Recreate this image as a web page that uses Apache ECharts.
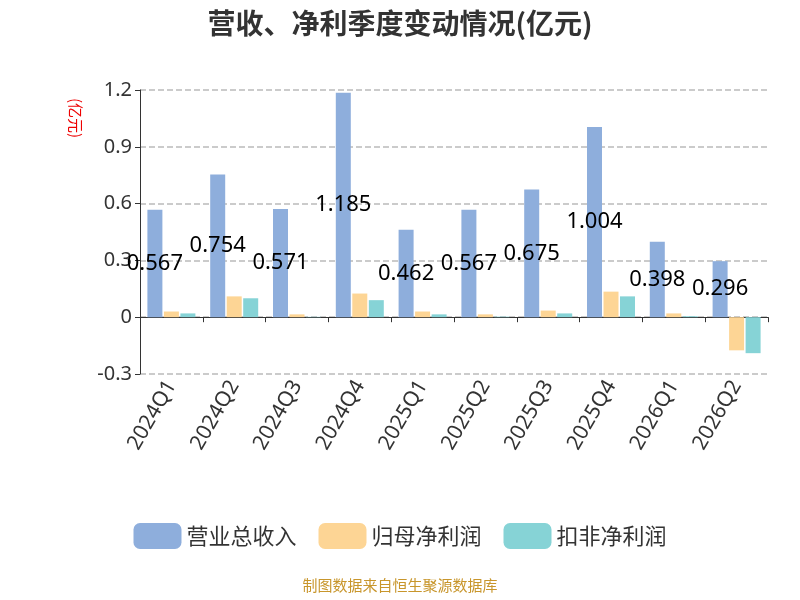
<!DOCTYPE html>
<html><head><meta charset="utf-8"><script src="https://cdn.jsdelivr.net/npm/echarts@6/dist/echarts.min.js"></script></head>
<body style="margin:0"><div id="c" style="width:800px;height:600px"></div>
<script>
const categories=['2024Q1','2024Q2','2024Q3','2024Q4','2025Q1','2025Q2','2025Q3','2025Q4','2026Q1','2026Q2'];
const revenue=[0.567,0.754,0.571,1.185,0.462,0.567,0.675,1.004,0.398,0.296];
const netProfit=[0.03,0.11,0.015,0.125,0.03,0.015,0.035,0.135,0.02,-0.175];
const deductedProfit=[0.02,0.10,0.002,0.09,0.015,0.003,0.02,0.11,0.005,-0.19];
const yTicks=[-0.3,0,0.3,0.6,0.9,1.2];
const ch=echarts.init(document.getElementById('c'));
ch.setOption({
 textStyle:{fontFamily:'Noto Sans, Noto Sans CJK SC'},
 title:{text:'营收、净利季度变动情况(亿元)',left:'center',top:4,textStyle:{fontSize:28,fontWeight:'bold',color:'#333',fontFamily:'Noto Sans CJK SC'}},
 graphic:[{type:'text',left:'center',top:578,style:{text:'制图数据来自恒生聚源数据库',fill:'#c8962c',fontSize:15,fontFamily:'Noto Sans CJK SC'}},
  {type:'text',left:68,top:98,rotation:-Math.PI/2,style:{text:'(亿元)',fill:'#e00',fontSize:15,fontFamily:'Noto Sans CJK SC'}}],
 legend:{bottom:46,itemWidth:48,itemHeight:26,itemGap:22,textStyle:{fontSize:22,color:'#333',fontFamily:'Noto Sans CJK SC'},data:['营业总收入','归母净利润','扣非净利润']},
 grid:{left:140,right:32,top:90,bottom:226},
 xAxis:{type:'category',data:categories,axisLine:{lineStyle:{color:'#333'}},axisTick:{show:true},axisLabel:{rotate:60,fontSize:21,color:'#333',interval:0}},
 yAxis:{type:'value',min:-0.3,max:1.2,interval:0.3,axisLine:{show:true,lineStyle:{color:'#333'}},axisTick:{show:true},
  axisLabel:{fontSize:20,color:'#333',formatter:v=>{const t=yTicks.find(x=>Math.abs(x-v)<1e-9);return t===0?'0':String(t);}},
  splitLine:{lineStyle:{type:'dashed',color:'#bbb',width:1.5}}},
 series:[
  {name:'营业总收入',type:'bar',data:revenue,barWidth:15,barGap:'10%',itemStyle:{color:'#8eaedc'},label:{show:true,position:'inside',color:'#000',fontSize:22}},
  {name:'归母净利润',type:'bar',data:netProfit,barWidth:15,itemStyle:{color:'#fdd595'}},
  {name:'扣非净利润',type:'bar',data:deductedProfit,barWidth:15,itemStyle:{color:'#86d3d6'}}
 ]});
</script></body></html>
